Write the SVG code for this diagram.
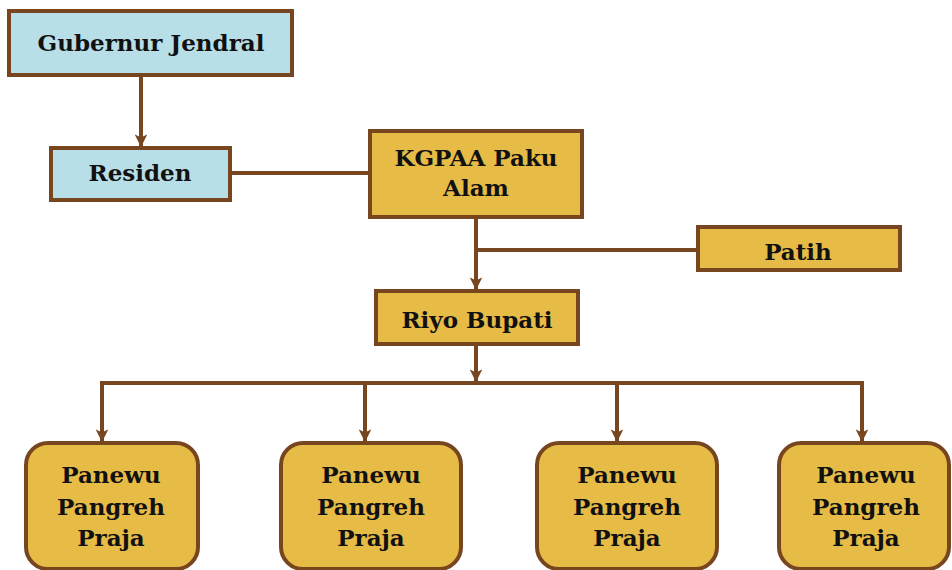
<svg xmlns="http://www.w3.org/2000/svg" width="952" height="570" viewBox="0 0 952 570">
<defs>
<style>
.box{stroke:#77461f;stroke-width:4}
.blue{fill:#b8dee8}
.gold{fill:#e6bb46}
.t{font-family:"DejaVu Serif","Liberation Serif",serif;font-weight:bold;font-size:23px;fill:#111;text-anchor:middle}
.c{stroke:#77461f;stroke-width:4;fill:none}
</style>
<marker id="ah" viewBox="0 0 12 12" refX="11" refY="6" markerWidth="3.2" markerHeight="3.2" orient="auto" markerUnits="strokeWidth">
<path d="M0,0 L12,6 L0,12 L3,6 Z" fill="#77461f"/>
</marker>
</defs>
<rect width="952" height="570" fill="#fff"/>
<g id="connectors">
<path class="c" d="M141,76 V146" marker-end="url(#ah)"/>
<path class="c" d="M230,173 H370"/>
<path class="c" d="M476,217 V289" marker-end="url(#ah)"/>
<path class="c" d="M474,250 H698"/>
<path class="c" d="M476,344 V381" marker-end="url(#ah)"/>
<path class="c" d="M102,441 V383 H862 V441" marker-end="url(#ah)"/>
<path class="c" d="M102,390 V441" marker-end="url(#ah)"/>
<path class="c" d="M365,383 V441" marker-end="url(#ah)"/>
<path class="c" d="M617,383 V441" marker-end="url(#ah)"/>
</g>
<g id="gubernur">
<rect class="box blue" x="9" y="11" width="283" height="64"/>
<text class="t" x="151" y="51">Gubernur Jendral</text>
</g>
<g id="residen">
<rect class="box blue" x="51" y="148" width="179" height="52"/>
<text class="t" x="140" y="181">Residen</text>
</g>
<g id="kgpaa">
<rect class="box gold" x="370" y="131" width="212" height="86"/>
<text class="t" x="476" y="166">KGPAA Paku</text>
<text class="t" x="476" y="196">Alam</text>
</g>
<g id="patih">
<rect class="box gold" x="698" y="227" width="202" height="43"/>
<text class="t" x="798" y="260">Patih</text>
</g>
<g id="riyo">
<rect class="box gold" x="376" y="291" width="202" height="53"/>
<text class="t" x="477" y="328">Riyo Bupati</text>
</g>
<g id="panewu1">
<rect class="box gold" x="26" y="443" width="172" height="126" rx="22"/>
<text class="t" x="111" y="483">Panewu</text>
<text class="t" x="111" y="515">Pangreh</text>
<text class="t" x="111" y="546">Praja</text>
</g>
<g id="panewu2">
<rect class="box gold" x="281" y="443" width="180" height="126" rx="22"/>
<text class="t" x="371" y="483">Panewu</text>
<text class="t" x="371" y="515">Pangreh</text>
<text class="t" x="371" y="546">Praja</text>
</g>
<g id="panewu3">
<rect class="box gold" x="537" y="443" width="180" height="126" rx="22"/>
<text class="t" x="627" y="483">Panewu</text>
<text class="t" x="627" y="515">Pangreh</text>
<text class="t" x="627" y="546">Praja</text>
</g>
<g id="panewu4">
<rect class="box gold" x="779" y="443" width="170" height="126" rx="22"/>
<text class="t" x="866" y="483">Panewu</text>
<text class="t" x="866" y="515">Pangreh</text>
<text class="t" x="866" y="546">Praja</text>
</g>
</svg>
